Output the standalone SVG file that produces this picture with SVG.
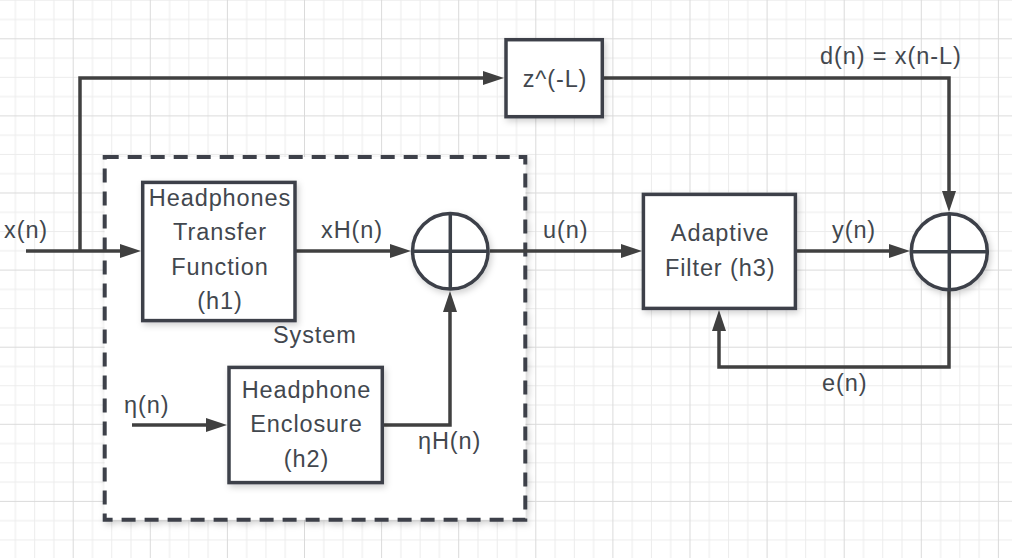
<svg xmlns="http://www.w3.org/2000/svg" width="1012" height="558" viewBox="0 0 1012 558">
  <defs>
    <pattern id="grid" patternUnits="userSpaceOnUse" x="72.7" y="38.3" width="77.1" height="77.1">
      <rect x="19.27" y="0" width="1" height="77.1" fill="#ececec"/>
      <rect x="38.55" y="0" width="1" height="77.1" fill="#ececec"/>
      <rect x="57.82" y="0" width="1" height="77.1" fill="#ececec"/>
      <rect x="0" y="19.27" width="77.1" height="1" fill="#ececec"/>
      <rect x="0" y="38.55" width="77.1" height="1" fill="#ececec"/>
      <rect x="0" y="57.82" width="77.1" height="1" fill="#ececec"/>
      <rect x="0" y="0" width="1" height="77.1" fill="#dadada"/>
      <rect x="0" y="0" width="77.1" height="1" fill="#dadada"/>
    </pattern>
    <filter id="sh" x="-20%" y="-20%" width="140%" height="140%">
      <feDropShadow dx="2" dy="3" stdDeviation="3" flood-color="#000" flood-opacity="0.18"/>
    </filter>
    <marker id="arr" markerUnits="userSpaceOnUse" markerWidth="22" markerHeight="15" refX="15" refY="7" orient="auto">
      <path d="M0,0 L21,7 L0,14 z" fill="#404040"/>
    </marker>
    <style>
      .node { fill: #ffffff; stroke: #3c4149; stroke-width: 3.5; filter: url(#sh); }
      .sys { fill: #ffffff; stroke: #3c4149; stroke-width: 4; stroke-dasharray: 14 9; filter: url(#sh); }
      .cross { stroke: #3c4149; stroke-width: 3.5; fill: none; }
      .conn { fill: none; stroke: #404040; stroke-width: 3.5; }
      .arrow { marker-end: url(#arr); }
      text { font-family: "Liberation Sans", Arial, sans-serif; font-size: 23.5px; fill: #42474e; letter-spacing: 0.9px; }
      .c { text-anchor: middle; }
    </style>
  </defs>

  <rect x="0" y="0" width="1012" height="558" fill="#ffffff"/>
  <rect x="0" y="0" width="1012" height="558" fill="url(#grid)"/>

  <g id="system">
    <rect class="sys" x="104.7" y="157" width="420.6" height="362.7"/>
    <text x="273" y="343">System</text>
  </g>

  <g id="connectors">
    <path class="conn arrow" d="M26,251 H135"/>
    <path class="conn arrow" d="M80,251 V78 H498"/>
    <path class="conn arrow" d="M603,78 H949 V206"/>
    <path class="conn arrow" d="M295,251 H405"/>
    <path class="conn arrow" d="M490,251 H636"/>
    <path class="conn arrow" d="M796,251 H904"/>
    <path class="conn arrow" d="M949,291 V367 H719 V316"/>
    <path class="conn arrow" d="M132,425 H221"/>
    <path class="conn arrow" d="M382,425 H450 V297"/>
  </g>

  <g id="labels">
    <text x="4" y="238">x(n)</text>
    <text x="321" y="238">xH(n)</text>
    <text x="543" y="238">u(n)</text>
    <text x="832" y="238">y(n)</text>
    <text x="820" y="64">d(n) = x(n-L)</text>
    <text x="822" y="391">e(n)</text>
    <text x="124" y="413">η(n)</text>
    <text x="418" y="449">ηH(n)</text>
  </g>

  <g id="delay">
    <rect class="node" x="506" y="39.7" width="96.3" height="77"/>
    <text class="c" x="555" y="87">z^(-L)</text>
  </g>

  <g id="h1">
    <rect class="node" x="142.7" y="182.4" width="152.3" height="138.2"/>
    <text class="c" x="220" y="205.5">Headphones</text>
    <text class="c" x="220" y="240">Transfer</text>
    <text class="c" x="220" y="274.5">Function</text>
    <text class="c" x="220" y="309">(h1)</text>
  </g>

  <g id="h2">
    <rect class="node" x="229" y="367.4" width="153.3" height="115.2"/>
    <text class="c" x="306.5" y="397.5">Headphone</text>
    <text class="c" x="306.5" y="432">Enclosure</text>
    <text class="c" x="306.5" y="466.5">(h2)</text>
  </g>

  <g id="sum1">
    <circle class="node" cx="450.3" cy="251.2" r="37.8"/>
    <path class="cross" d="M412.5,251.2 H488.1 M450.3,213.4 V289"/>
  </g>

  <g id="h3">
    <rect class="node" x="643.4" y="194.4" width="152" height="114"/>
    <text class="c" x="720.2" y="240.5">Adaptive</text>
    <text class="c" x="720.2" y="275.5">Filter (h3)</text>
  </g>

  <g id="sum2">
    <circle class="node" cx="949.3" cy="251.7" r="38"/>
    <path class="cross" d="M911.3,251.7 H987.3 M949.3,213.7 V289.7"/>
  </g>
</svg>
